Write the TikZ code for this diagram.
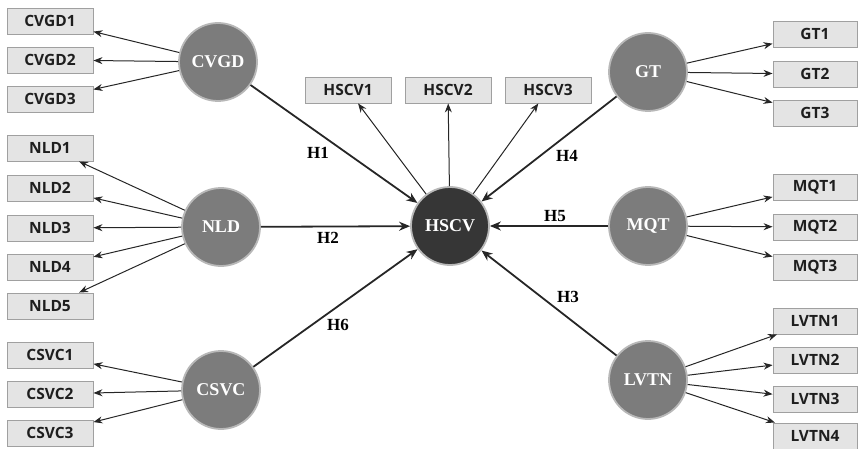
\documentclass[tikz,border=0pt]{standalone}
\usepackage{fontspec}
\setmainfont{Liberation Serif}
\newfontfamily\boxfont{Open Sans}
\usetikzlibrary{arrows.meta}
\definecolor{latfill}{HTML}{7C7C7C}
\definecolor{latedge}{HTML}{B8B8B8}
\definecolor{darkfill}{HTML}{363636}
\definecolor{boxfill}{HTML}{E4E4E4}
\definecolor{boxedge}{HTML}{A0A0A0}
\definecolor{boxtext}{HTML}{1E1E1E}
\definecolor{linecol}{HTML}{262626}
\begin{document}
\begin{tikzpicture}[x=1pt,y=-1pt,
 lat/.style={circle, fill=latfill, draw=latedge, line width=1.8pt, minimum size=78pt, inner sep=0pt, text=white, font=\fontsize{18}{18}\selectfont\bfseries},
 darklat/.style={lat, fill=darkfill},
 ind/.style={rectangle, fill=boxfill, draw=boxedge, line width=0.9pt, minimum width=86pt, minimum height=26pt, inner sep=0pt, font=\boxfont\fontsize{15.5}{15.5}\selectfont\bfseries, text=boxtext},
 load/.style={-{Stealth[length=9pt,width=7pt]}, line width=1pt, draw=linecol},
 struct/.style={-{Stealth[length=11pt,width=9pt]}, line width=1.8pt, draw=linecol},
 hlab/.style={font=\fontsize{17}{17}\selectfont\bfseries, text=black}
]
\useasboundingbox (0,0) rectangle (859,449);

% latent variables
\node[lat] (cvgd) at (218,62) {CVGD};
\node[lat] (nld) at (221,227) {NLD};
\node[lat] (csvc) at (221,390) {CSVC};
\node[darklat] (hscv) at (450,226) {HSCV};
\node[lat] (gt) at (648,72) {GT};
\node[lat] (mqt) at (648,226) {MQT};
\node[lat] (lvtn) at (648,380) {LVTN};

% indicators left
\node[ind] (cvgd1) at (50,21) {CVGD1};
\node[ind] (cvgd2) at (50,60) {CVGD2};
\node[ind] (cvgd3) at (50,99) {CVGD3};
\node[ind] (nld1) at (50,148) {NLD1};
\node[ind] (nld2) at (50,188) {NLD2};
\node[ind] (nld3) at (50,228) {NLD3};
\node[ind] (nld4) at (50,267) {NLD4};
\node[ind] (nld5) at (50,306) {NLD5};
\node[ind] (csvc1) at (50,355) {CSVC1};
\node[ind] (csvc2) at (50,394) {CSVC2};
\node[ind] (csvc3) at (50,433) {CSVC3};

% indicators top
\node[ind] (hscv1) at (348,90) {HSCV1};
\node[ind] (hscv2) at (448,90) {HSCV2};
\node[ind] (hscv3) at (548,90) {HSCV3};

% indicators right
\node[ind, minimum width=84pt] (gt1) at (815,34) {GT1};
\node[ind, minimum width=84pt] (gt2) at (815,74) {GT2};
\node[ind, minimum width=84pt] (gt3) at (815,113) {GT3};
\node[ind, minimum width=84pt] (mqt1) at (815,187) {MQT1};
\node[ind, minimum width=84pt] (mqt2) at (815,227) {MQT2};
\node[ind, minimum width=84pt] (mqt3) at (815,267) {MQT3};
\node[ind, minimum width=84pt] (lvtn1) at (815,321) {LVTN1};
\node[ind, minimum width=84pt] (lvtn2) at (815,360) {LVTN2};
\node[ind, minimum width=84pt] (lvtn3) at (815,399) {LVTN3};
\node[ind, minimum width=84pt] (lvtn4) at (815,436) {LVTN4};

% loadings
\foreach \i in {1,2,3} \draw[load] (cvgd) -- (cvgd\i);
\foreach \i in {1,2,3,4,5} \draw[load] (nld) -- (nld\i);
\foreach \i in {1,2,3} \draw[load] (csvc) -- (csvc\i);
\foreach \i in {1,2,3} \draw[load] (hscv) -- (hscv\i);
\foreach \i in {1,2,3} \draw[load] (gt) -- (gt\i);
\foreach \i in {1,2,3} \draw[load] (mqt) -- (mqt\i);
\foreach \i in {1,2,3,4} \draw[load] (lvtn) -- (lvtn\i);

% structural paths
\draw[struct] (cvgd) -- (hscv);
\draw[struct] (nld) -- (hscv);
\draw[struct] (csvc) -- (hscv);
\draw[struct] (gt) -- (hscv);
\draw[struct] (mqt) -- (hscv);
\draw[struct] (lvtn) -- (hscv);

% labels
\node[hlab] (h1) at (318,153) {H1};
\node[hlab] (h2) at (328,238) {H2};
\node[hlab] (h6) at (338,325) {H6};
\node[hlab] (h4) at (567,156) {H4};
\node[hlab] (h5) at (555,216) {H5};
\node[hlab] (h3) at (568,297) {H3};
\end{tikzpicture}
\end{document}
